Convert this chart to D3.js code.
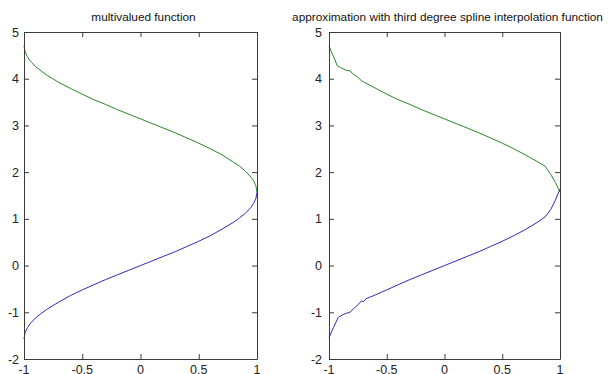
<!DOCTYPE html>
<html>
<head>
<meta charset="utf-8">
<script src="https://cdn.jsdelivr.net/npm/d3@7"></script>
<style>
  body { margin: 0; background: #fff; }
  svg { display: block; font-family: "Liberation Sans", Arial, sans-serif; }
</style>
</head>
<body>
<div id="chart"></div>
<script>
// tick labels
var xTicks = [-1, -0.5, 0, 0.5, 1];
var yTicks = [-2, -1, 0, 1, 2, 3, 4, 5];

var titles = ["multivalued function", "approximation with third degree spline interpolation function"];

// left panel: exact branches
var exactX     = [-1, -0.99, -0.97, -0.95, -0.9, -0.85, -0.8, -0.7, -0.6, -0.5, -0.4, -0.3, -0.2, -0.1, 0, 0.1, 0.2, 0.3, 0.4, 0.5, 0.6, 0.7, 0.8, 0.85, 0.9, 0.95, 0.97, 0.99, 1];
var exactLower = [-1.57, -1.43, -1.33, -1.25, -1.12, -1.02, -0.93, -0.78, -0.64, -0.52, -0.41, -0.30, -0.20, -0.10, 0, 0.10, 0.20, 0.30, 0.41, 0.52, 0.64, 0.78, 0.93, 1.02, 1.12, 1.25, 1.33, 1.43, 1.57];
var exactUpper = [4.71, 4.57, 4.47, 4.39, 4.26, 4.16, 4.07, 3.92, 3.79, 3.67, 3.55, 3.45, 3.34, 3.24, 3.14, 3.04, 2.94, 2.84, 2.73, 2.62, 2.50, 2.37, 2.21, 2.13, 2.02, 1.89, 1.82, 1.71, 1.57];

// right panel: spline approximation, with its kinks
var splineLowerX = [-1, -0.96, -0.92, -0.88, -0.85, -0.82, -0.79, -0.75, -0.72, -0.70, -0.68, -0.6, -0.5, -0.4, -0.3, -0.2, -0.1, 0, 0.1, 0.2, 0.3, 0.4, 0.5, 0.6, 0.7, 0.8, 0.87, 0.92, 0.96, 1];
var splineLower  = [-1.54, -1.32, -1.11, -1.05, -1.02, -1.00, -0.93, -0.84, -0.76, -0.77, -0.71, -0.63, -0.52, -0.41, -0.30, -0.20, -0.10, 0, 0.10, 0.20, 0.30, 0.41, 0.52, 0.64, 0.77, 0.92, 1.04, 1.20, 1.40, 1.64];
var splineUpperX = [-1, -0.97, -0.95, -0.93, -0.9, -0.85, -0.82, -0.8, -0.75, -0.72, -0.70, -0.6, -0.5, -0.4, -0.3, -0.2, -0.1, 0, 0.1, 0.2, 0.3, 0.4, 0.5, 0.6, 0.7, 0.8, 0.87, 0.92, 0.96, 1];
var splineUpper  = [4.70, 4.52, 4.42, 4.28, 4.24, 4.18, 4.17, 4.12, 4.03, 3.96, 3.93, 3.80, 3.67, 3.55, 3.45, 3.34, 3.24, 3.14, 3.04, 2.94, 2.84, 2.73, 2.62, 2.50, 2.37, 2.23, 2.13, 1.95, 1.78, 1.57];

var width = 609, height = 374;
var blue = "#2b2bb8", green = "#2b852b", axisColor = "#3a3a3a";

var svg = d3.select("#chart").append("svg")
    .attr("width", width)
    .attr("height", height);

var panels = [
    { left: 24, right: 257, labelGap: 5, title: titles[0], lines: [
        { x: exactX, y: exactUpper, color: green },
        { x: exactX, y: exactLower, color: blue } ] },
    { left: 329, right: 560, labelGap: 7, title: titles[1], lines: [
        { x: splineUpperX, y: splineUpper, color: green },
        { x: splineLowerX, y: splineLower, color: blue } ] }
];

var plotTop = 32, plotBottom = 359;

panels.forEach(function (p) {
    var x = d3.scaleLinear().domain([-1, 1]).range([p.left, p.right]);
    var y = d3.scaleLinear().domain([-2, 5]).range([plotBottom, plotTop]);

    var g = svg.append("g");

    // curves first so the frame sits on top
    var line = d3.line()
        .x(function (d) { return x(d[0]); })
        .y(function (d) { return y(d[1]); });

    p.lines.forEach(function (l) {
        g.append("path")
            .datum(d3.zip(l.x, l.y))
            .attr("d", line)
            .attr("fill", "none")
            .attr("stroke", l.color)
            .attr("stroke-width", 1);
    });

    // inward ticks on all four sides, matlab box style
    var tickLen = 5;
    var axes = [
        { a: d3.axisBottom(x).tickValues(xTicks), t: "translate(0," + plotBottom + ")" },
        { a: d3.axisTop(x).tickValues(xTicks), t: "translate(0," + plotTop + ")" },
        { a: d3.axisLeft(y).tickValues(yTicks), t: "translate(" + p.left + ",0)" },
        { a: d3.axisRight(y).tickValues(yTicks), t: "translate(" + p.right + ",0)" }
    ];

    axes.forEach(function (ax) {
        ax.a.tickSizeInner(-tickLen).tickSizeOuter(0).tickFormat(d3.format("")).tickPadding(0);
        var ag = g.append("g").attr("transform", ax.t).call(ax.a);
        ag.select(".domain").attr("stroke", axisColor);
        ag.selectAll(".tick line").attr("stroke", axisColor);
        ag.selectAll(".tick text").remove();
    });

    // labels placed by hand around the frame
    g.selectAll(".xlab")
        .data(xTicks)
        .enter().append("text")
        .attr("x", function (d) { return x(d); })
        .attr("y", 374)
        .attr("text-anchor", "middle")
        .attr("font-size", "12.5px")
        .attr("fill", "#222")
        .text(function (d) { return d; });

    g.selectAll(".ylab")
        .data(yTicks)
        .enter().append("text")
        .attr("x", p.left - p.labelGap)
        .attr("y", function (d) { return y(d); })
        .attr("dy", "0.36em")
        .attr("text-anchor", "end")
        .attr("font-size", "12.5px")
        .attr("fill", "#222")
        .text(function (d) { return d; });

    g.append("text")
        .attr("x", (p.left + p.right) / 2 + 3)
        .attr("y", 21)
        .attr("text-anchor", "middle")
        .attr("font-size", "11.8px")
        .attr("fill", "#111")
        .text(p.title);
});
</script>
</body>
</html>
